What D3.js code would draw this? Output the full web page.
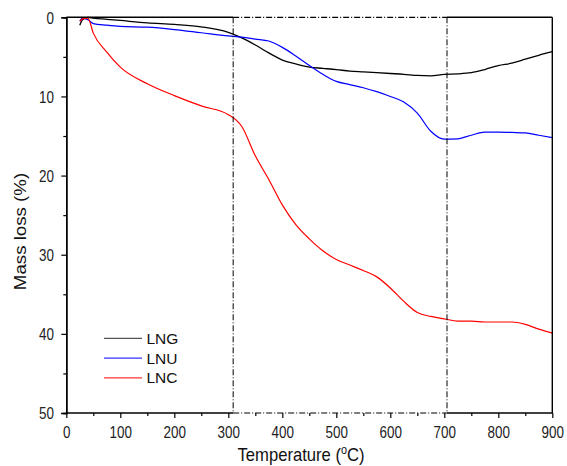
<!DOCTYPE html>
<html>
  <head>
    <meta charset="utf-8">
    <title>TGA mass loss</title>
    <style>
      body { margin: 0; background: #fff; }
      text { font-family: "Liberation Sans", Arial, sans-serif; }
    </style>
  </head>
  <body>
    <div id="chart"></div>
    <script src="https://cdn.jsdelivr.net/npm/d3@7"></script>
    <script>

        var temps = [25, 30, 40, 50, 75, 100, 150, 200, 250, 300, 325, 350, 375, 400, 425, 450,
                     475, 500, 525, 550, 575, 600, 625, 650, 675, 700, 725, 750, 775, 800, 825, 850, 875, 900];
        var lng = [1.0, 0.3, 0.0, 0.1, 0.25, 0.4, 0.7, 0.9, 1.2, 1.9, 2.6, 3.5, 4.5, 5.4, 5.9, 6.3,
                   6.45, 6.6, 6.8, 6.9, 7.0, 7.1, 7.2, 7.35, 7.4, 7.2, 7.15, 7.0, 6.6, 6.1, 5.8, 5.3, 4.8, 4.35];
        var lnu = [0.5, 0.1, 0.3, 0.8, 1.0, 1.15, 1.25, 1.55, 1.95, 2.35, 2.5, 2.75, 3.0, 3.8, 4.9, 6.1,
                   7.2, 8.1, 8.5, 8.9, 9.4, 10.0, 10.7, 12.1, 14.4, 15.4, 15.35, 14.9, 14.5, 14.5, 14.55, 14.6, 14.9, 15.2];
        var lnc = [0.5, 0.2, 0.1, 2.0, 4.4, 6.3, 8.4, 9.9, 11.2, 12.3, 13.8, 17.5, 20.5, 23.7, 26.2, 28.0,
                   29.5, 30.6, 31.3, 32.0, 32.8, 34.2, 35.9, 37.3, 37.8, 38.1, 38.4, 38.4, 38.5, 38.5, 38.5, 38.8, 39.4, 39.9];
        var seriesNames = ['LNG', 'LNU', 'LNC'];
        var seriesColors = ['#000000', '#0000ff', '#ff0000'];
        var legendColors = ['#555555', '#3333ff', '#ff3333'];
        var markerTemps = [309, 705];
        var xTicks = [0, 100, 200, 300, 400, 500, 600, 700, 800, 900];
        var yTicks = [0, 10, 20, 30, 40, 50];

        var width = 567;
        var height = 466;
        var plotL = 66.3, plotR = 552.3, plotT = 17.3, plotB = 413;
        var squeeze = 0.79;   // tick labels look tall and narrow in the original

        var x = d3.scaleLinear().domain([0, 900]).range([plotL, plotR]);
        var y = d3.scaleLinear().domain([0, 50]).range([plotT, plotB]);

        var svg = d3.select('#chart')
          .append('svg')
          .attr('width', width)
          .attr('height', height);

        // curves
        var line = d3.line()
          .x(function(d) { return x(d[0]); })
          .y(function(d) { return y(d[1]); })
          .curve(d3.curveMonotoneX);

        [lng, lnu, lnc].forEach(function(vals, i) {
          svg.append('path')
            .datum(temps.map(function(t, j) { return [t, vals[j]]; }))
            .attr('d', line)
            .attr('fill', 'none')
            .attr('stroke', seriesColors[i])
            .attr('stroke-width', i == 0 ? 1.3 : 1.2);
        });

        // dash-dot markers
        var dashDot = '6,2,1,2';
        markerTemps.forEach(function(t) {
          svg.append('line')
            .attr('x1', x(t)).attr('x2', x(t))
            .attr('y1', y(0)).attr('y2', y(50))
            .attr('stroke', '#000')
            .attr('stroke-width', 1)
            .attr('stroke-dasharray', dashDot);
        });

        // frame: solid outside the marked range, dash-dot inside it
        [0, 50].forEach(function(v) {
          svg.append('line')
            .attr('x1', x(0)).attr('x2', x(markerTemps[0]))
            .attr('y1', y(v)).attr('y2', y(v))
            .attr('stroke', '#000').attr('stroke-width', 1.4);
          svg.append('line')
            .attr('x1', x(markerTemps[1])).attr('x2', x(900))
            .attr('y1', y(v)).attr('y2', y(v))
            .attr('stroke', '#000').attr('stroke-width', 1.4);
          svg.append('line')
            .attr('x1', x(markerTemps[0])).attr('x2', x(markerTemps[1]))
            .attr('y1', y(v)).attr('y2', y(v))
            .attr('stroke', '#000').attr('stroke-width', 1.2)
            .attr('stroke-dasharray', dashDot);
        });
        svg.append('line')
          .attr('x1', x(900)).attr('x2', x(900))
          .attr('y1', y(0)).attr('y2', y(50))
          .attr('stroke', '#000').attr('stroke-width', 1.4);

        // axes
        var xAxis = svg.append('g')
          .attr('transform', 'translate(0,' + y(50) + ')')
          .call(d3.axisBottom(x).tickValues(xTicks).tickSize(5));
        var xMinor = svg.append('g')
          .attr('transform', 'translate(0,' + y(50) + ')')
          .call(d3.axisBottom(x).tickValues(d3.range(50, 900, 100)).tickSize(3).tickFormat(''));
        var yAxis = svg.append('g')
          .attr('transform', 'translate(' + x(0) + ',0)')
          .call(d3.axisLeft(y).tickValues(yTicks).tickSize(5));
        var yMinor = svg.append('g')
          .attr('transform', 'translate(' + x(0) + ',0)')
          .call(d3.axisLeft(y).tickValues(d3.range(5, 50, 10)).tickSize(3).tickFormat(''));

        [xAxis, xMinor, yAxis, yMinor].forEach(function(g) {
          g.select('.domain').attr('stroke-width', 1.4);
          g.selectAll('.tick line').attr('stroke-width', 1.2);
          g.selectAll('text').attr('font-size', 17).attr('fill', '#222')
            .attr('transform', 'scale(' + squeeze + ',1)')
            .style('font-family', '"Liberation Sans", Arial, sans-serif');
        });
        xAxis.select('.domain').remove();
        xMinor.select('.domain').remove();
        xAxis.selectAll('text').attr('y', 24.7).attr('dy', 0);
        yAxis.selectAll('text').attr('x', -12.3 / squeeze).attr('dy', '0.35em');

        // axis titles
        var xTitle = svg.append('text')
          .attr('transform', 'translate(301,461) scale(0.9,1)')
          .attr('text-anchor', 'middle')
          .attr('font-size', 18.5)
          .attr('fill', '#111');
        xTitle.append('tspan').text('Temperature (');
        xTitle.append('tspan').attr('font-size', 12).attr('dy', -7.5).text('o');
        xTitle.append('tspan').attr('dy', 7.5).text('C)');

        svg.append('text')
          .attr('transform', 'translate(26,231.5) rotate(-90) scale(1.1,1)')
          .attr('text-anchor', 'middle')
          .attr('font-size', 17)
          .attr('fill', '#111')
          .text('Mass loss (%)');

        // legend
        var legend = svg.append('g');
        seriesNames.forEach(function(name, i) {
          var ly = 338.3 + i * 19.8;
          legend.append('line')
            .attr('x1', 104).attr('x2', 142)
            .attr('y1', ly).attr('y2', ly)
            .attr('stroke', legendColors[i])
            .attr('stroke-width', 1.3);
          legend.append('text')
            .attr('x', 146.5).attr('y', ly + 5.5)
            .attr('font-size', 15.5)
            .attr('fill', '#111')
            .text(name);
        });

    </script>
  </body>
</html>
